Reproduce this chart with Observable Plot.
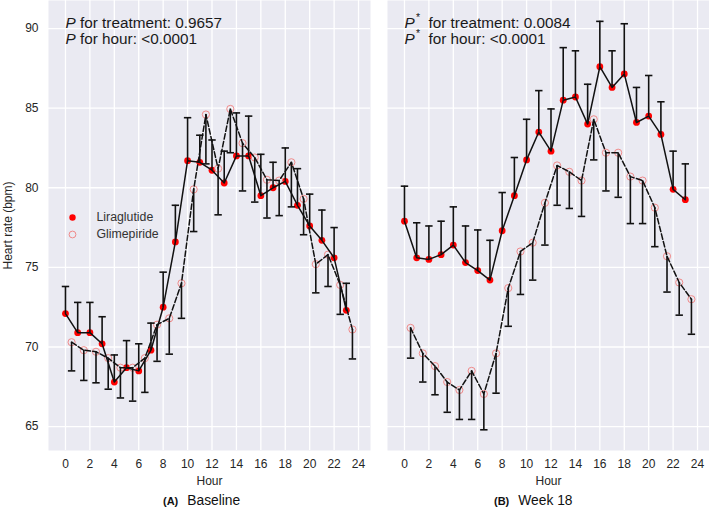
<!DOCTYPE html>
<html><head><meta charset="utf-8">
<script src="https://cdn.jsdelivr.net/npm/d3@7"></script>
<script src="https://cdn.jsdelivr.net/npm/@observablehq/plot@0.6"></script>
<style>
body{margin:0;background:#fff;}
#wrap{position:relative;width:709px;height:508px;overflow:hidden;font-family:"Liberation Sans",Arial,sans-serif;}
.panel{position:absolute;top:0;}
.cap{position:absolute;top:490px;height:22px;line-height:22px;white-space:nowrap;font-family:"Liberation Sans",Arial,sans-serif;font-size:13.8px;color:#111;}
.cap b{font-size:11px;margin-right:9px;}
</style></head>
<body><div id="wrap"></div>
<script>
// ---- data ----
const liraHours = [0,1,2,3,4,5,6,7,8,9,10,11,12,13,14,15,16,17,18,19,20,21,22,23];
const glimHours = [0.5,1.5,2.5,3.5,4.5,5.5,6.5,7.5,8.5,9.5,10.5,11.5,12.5,13.5,14.5,15.5,16.5,17.5,18.5,19.5,20.5,21.5,22.5,23.5];
const xTicks = [0,2,4,6,8,10,12,14,16,18,20,22,24];
const yTicks = [65,70,75,80,85,90];

// Baseline
const baseLira      = [72.1,70.9,70.9,70.2,67.8,68.7,68.5,69.8,72.5,76.6,81.7,81.6,81.1,80.3,82.0,82.0,79.5,80.0,80.4,78.9,77.6,76.7,75.6,72.3];
const baseLiraUpper = [73.8,72.8,72.8,71.9,69.5,70.4,70.2,71.5,74.7,78.9,84.4,83.3,83.0,82.3,84.7,84.5,82.1,81.6,82.5,81.2,79.6,78.6,77.5,74.0];
const baseGlim      = [70.3,69.8,69.7,69.3,68.7,68.7,69.3,71.4,71.8,74.0,79.9,84.6,81.2,84.95,82.8,81.9,80.5,80.45,81.6,79.3,75.2,75.8,73.9,71.1];
const baseGlimLower = [68.5,67.9,67.75,67.35,66.8,66.6,67.15,69.1,69.55,71.8,77.25,81.5,78.3,82.2,79.8,79.1,78.1,78.25,78.8,77.05,73.4,73.8,72.05,69.25];

// Week 18
const wk18Lira      = [77.9,75.6,75.5,75.8,76.4,75.3,74.8,74.2,77.3,79.5,81.75,83.5,82.3,85.5,85.7,84.0,87.6,86.3,87.15,84.1,84.5,83.35,79.9,79.25];
const wk18LiraUpper = [80.1,77.8,77.6,77.9,78.8,77.6,77.35,76.7,79.7,81.9,84.3,86.1,84.95,88.8,88.6,86.5,90.45,88.6,90.3,86.3,87.05,85.4,82.3,81.5];
const wk18Glim      = [71.2,69.6,68.8,67.8,67.3,68.5,67.05,69.6,73.7,76.0,76.55,79.05,81.4,81.0,80.45,84.3,82.2,82.2,80.7,80.45,78.75,75.7,74.05,73.0];
const wk18GlimLower = [69.3,67.8,67.0,65.9,65.45,65.45,64.8,67.1,71.3,73.3,74.2,76.4,78.9,78.7,78.2,81.75,79.8,79.4,77.75,77.75,76.3,73.45,72.0,70.8];

const seriesNames = ["Liraglutide","Glimepiride"];

// ---- drawing ----
const capSymbol = {draw(ctx){ const w = 3.7; ctx.moveTo(-w,0); ctx.lineTo(w,0); }};
const grid = {stroke:"#fff", strokeOpacity:1, strokeWidth:1.3};
const ink = "#111";

function makePanel({lira, liraUp, glim, glimLo, width, marginLeft, showY, star, pTreat, pHour, legend}) {
  const L = liraHours.map((h,i)=>({h, v:lira[i], e:liraUp[i]}));
  const G = glimHours.map((h,i)=>({h, v:glim[i], e:glimLo[i]}));
  const annFont = 15.3, annColor = "#1a1a1a";
  const restDx = star ? 41 : 31.5;
  const rows = [23, 38.5];
  const marks = [
    Plot.frame({fill:"#eaeaf2", stroke:"none"}),
    Plot.gridX(xTicks, grid),
    Plot.gridY(yTicks, grid),
    Plot.axisX(xTicks, {tickSize:0, tickPadding:9, label:"Hour", labelAnchor:"center", labelOffset:34, labelArrow:false}),
    showY ? Plot.axisY(yTicks, {tickSize:0, tickPadding:10, label:"Heart rate (bpm)", labelAnchor:"center", labelArrow:false}) : null,
    Plot.dot(L, {x:"h", y:"v", r:3.4, fill:"#ff0000", stroke:"none"}),
    Plot.dot(G, {x:"h", y:"v", r:3.6, fill:"none", stroke:"#f08a8a", strokeWidth:1}),
    Plot.line(L, {x:"h", y:"v", stroke:ink, strokeWidth:1.5}),
    Plot.line(G, {x:"h", y:"v", stroke:ink, strokeWidth:1.5, strokeDasharray:"5.5,2.4"}),
    Plot.ruleX(L, {x:"h", y1:"v", y2:"e", stroke:ink, strokeWidth:1.6}),
    Plot.dot(L, {x:"h", y:"e", symbol:capSymbol, fill:"none", stroke:ink, strokeWidth:1.6}),
    Plot.ruleX(G, {x:"h", y1:"v", y2:"e", stroke:ink, strokeWidth:1.6}),
    Plot.dot(G, {x:"h", y:"e", symbol:capSymbol, fill:"none", stroke:ink, strokeWidth:1.6})
  ];
  const lines = ["for treatment: " + pTreat, "for hour: " + pHour];
  lines.forEach((t, i) => {
    marks.push(
      Plot.text(["P"], {frameAnchor:"top-left", dx:17, dy:rows[i], textAnchor:"start", lineAnchor:"middle", fontStyle:"italic", fontSize:annFont, fill:annColor}),
      Plot.text([t], {frameAnchor:"top-left", dx:restDx, dy:rows[i], textAnchor:"start", lineAnchor:"middle", fontSize:annFont, fill:annColor})
    );
    if (star) marks.push(Plot.text(["*"], {frameAnchor:"top-left", dx:28.5, dy:rows[i]-5.5, textAnchor:"start", lineAnchor:"middle", fontSize:10.5, fill:annColor}));
  });
  if (legend) {
    marks.push(
      Plot.dot([seriesNames[0]], {frameAnchor:"top-left", dx:24, dy:217, r:3.2, fill:"#ff0000", stroke:"none"}),
      Plot.dot([seriesNames[1]], {frameAnchor:"top-left", dx:24, dy:234, r:3.4, fill:"none", stroke:"#f08a8a", strokeWidth:1}),
      Plot.text([seriesNames[0]], {frameAnchor:"top-left", dx:48, dy:217, textAnchor:"start", lineAnchor:"middle", fontSize:12.3, fill:"#333"}),
      Plot.text([seriesNames[1]], {frameAnchor:"top-left", dx:48, dy:234, textAnchor:"start", lineAnchor:"middle", fontSize:12.3, fill:"#333"})
    );
  }
  return Plot.plot({
    width, height:486, marginLeft, marginRight:0, marginTop:0, marginBottom:36,
    x:{domain:[-1.39, 24.98]},
    y:{domain:[63.5, 91.76], ...(showY ? {} : {axis:null})},
    style:{fontFamily:'"Liberation Sans", Arial, sans-serif', fontSize:"12px", color:"#262626", background:"transparent", overflow:"visible"},
    marks: marks.filter(Boolean)
  });
}

const wrap = document.getElementById("wrap");
function place(node, left){ const d = document.createElement("div"); d.className="panel"; d.style.left = left+"px"; d.appendChild(node); wrap.appendChild(d); }
place(makePanel({lira:baseLira, liraUp:baseLiraUpper, glim:baseGlim, glimLo:baseGlimLower, width:370, marginLeft:48, showY:true, star:false, pTreat:"0.9657", pHour:"<0.0001", legend:true}), 0);
place(makePanel({lira:wk18Lira, liraUp:wk18LiraUpper, glim:wk18Glim, glimLo:wk18GlimLower, width:322, marginLeft:0, showY:false, star:true, pTreat:"0.0084", pHour:"<0.0001", legend:false}), 387);

function caption(tag, text, left){ const c = document.createElement("div"); c.className="cap"; c.style.left=left+"px"; const b=document.createElement("b"); b.textContent=tag; c.appendChild(b); c.appendChild(document.createTextNode(text)); wrap.appendChild(c); }
caption("(A)", "Baseline", 163);
caption("(B)", "Week 18", 494);
</script></body></html>
